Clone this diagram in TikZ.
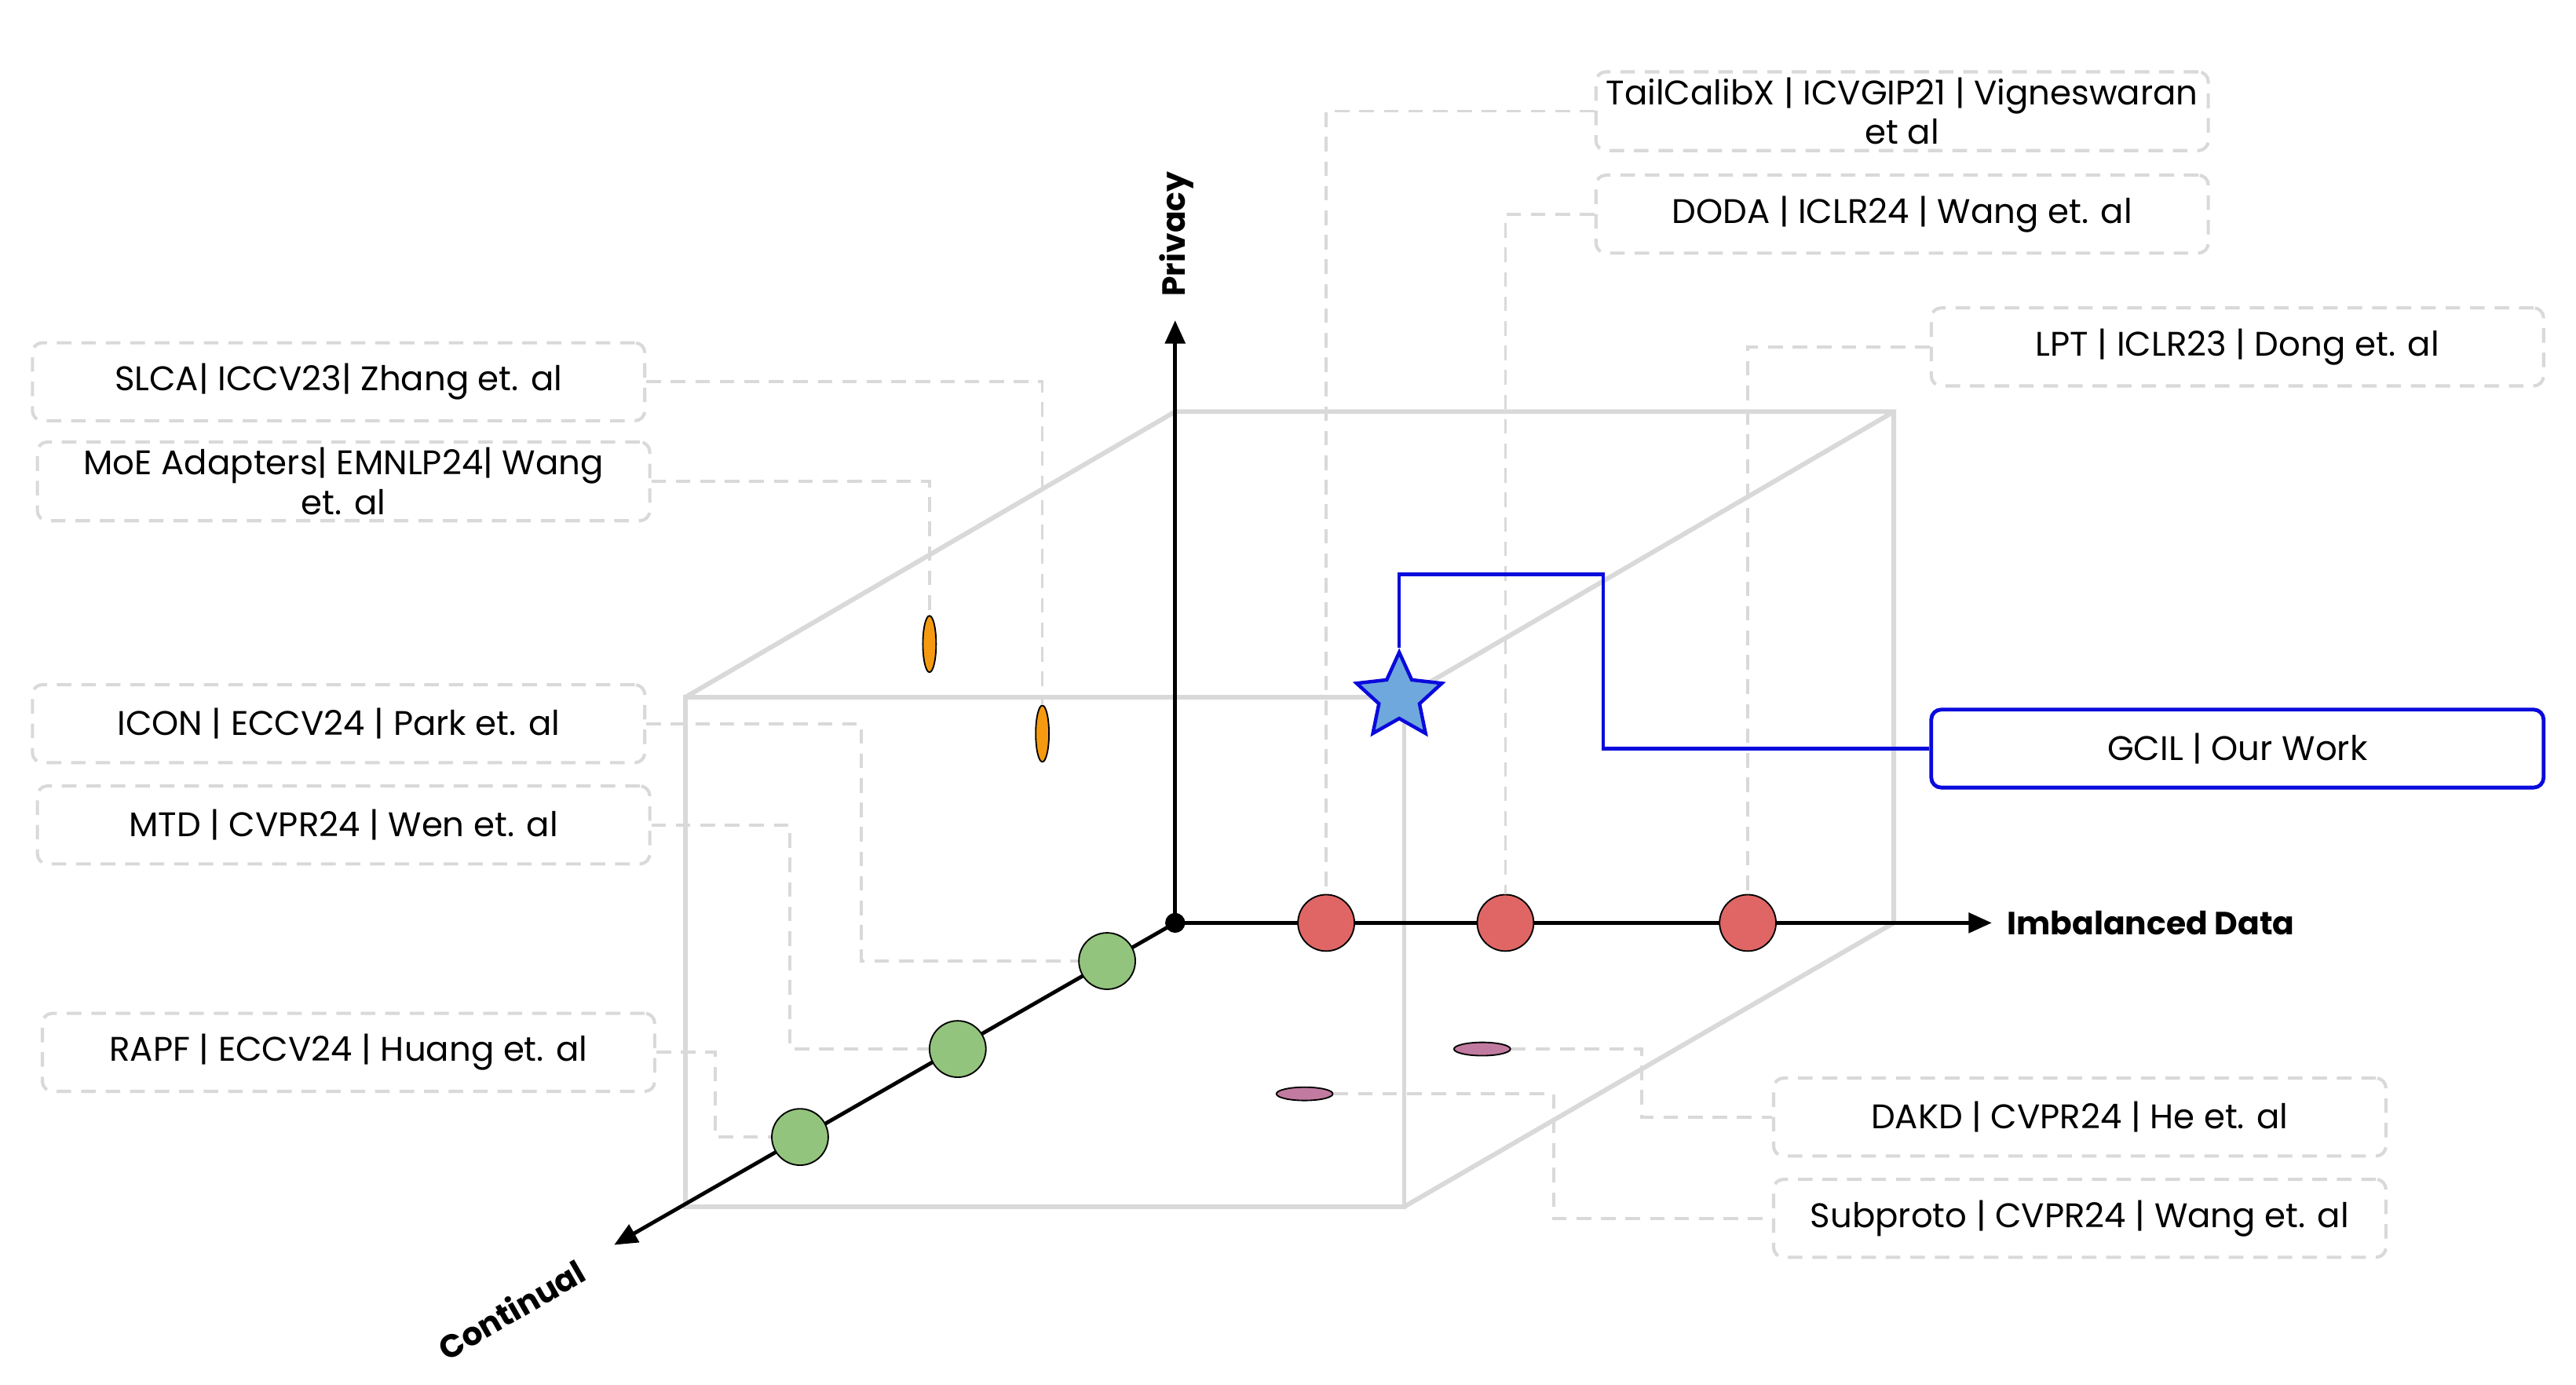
\documentclass[tikz,border=0pt]{standalone}
\usepackage{fontspec}
\setmainfont{Poppins}
\usetikzlibrary{arrows.meta,shapes.geometric}

\definecolor{cubegray}{HTML}{D9D9D9}
\definecolor{dotred}{HTML}{E06666}
\definecolor{dotgreen}{HTML}{93C47D}
\definecolor{dotorange}{HTML}{F59A10}
\definecolor{dotpink}{HTML}{C27BA0}
\definecolor{starblue}{HTML}{6FA8DC}
\definecolor{ourblue}{HTML}{0A0ADC}

\tikzset{
    paper/.style={draw=cubegray, line width=1.1pt, dash pattern=on 5pt off 3.4pt,
        rounded corners=0.12cm, minimum width=7.38cm, minimum height=0.94cm,
        align=center, inner sep=2pt, font=\fontsize{11.7}{13.6}\selectfont},
    ours/.style={paper, draw=ourblue, solid, line width=1.3pt},
    link/.style={draw=cubegray, line width=1pt, dash pattern=on 5pt off 3.4pt},
    axis/.style={line width=1.3pt, -{Triangle[length=0.28cm,width=0.24cm]}},
    axislabel/.style={font=\bfseries\fontsize{11}{13}\selectfont},
    dot/.style={draw=black, line width=0.5pt, inner sep=0pt},
}

\begin{document}
\begin{tikzpicture}[x=0.02cm, y=-0.02cm]
                \useasboundingbox (0,0) rectangle (1552,834);
                \def\front{(413,420) rectangle (846,727)}
                \def\cubeback{(413,420) -- (708,248) -- (1141,248) -- (1141,556) -- (846,727) (846,420) -- (1141,248)}

                % Cube
                \draw[cubegray, line width=1.6pt] \front;
                \draw[cubegray, line width=1.6pt] \cubeback;

                % Axes
                \coordinate (o) at (708,556);
                \draw[axis] (o) -- (708,193);
                \draw[axis] (o) -- (1200,556);
                \draw[axis] (o) -- (370,750);
                \node[axislabel, rotate=90] (privacy) at (709,141) {Privacy};
                \node[axislabel, anchor=west] (imbal) at (1203,556) {Imbalanced Data};
                \node[axislabel, rotate=30] (cont) at (308,789) {Continual};
                \fill (o) circle (6);

                % Imbalanced methods
                \node[dot, circle, fill=dotred, minimum size=0.68cm] (r1) at (799,556) {};
                \node[dot, circle, fill=dotred, minimum size=0.68cm] (r2) at (907,556) {};
                \node[dot, circle, fill=dotred, minimum size=0.68cm] (r3) at (1053,556) {};

                % Continual methods
                \node[dot, circle, fill=dotgreen, minimum size=0.68cm] (g1) at (667,579) {};
                \node[dot, circle, fill=dotgreen, minimum size=0.68cm] (g2) at (577,632) {};
                \node[dot, circle, fill=dotgreen, minimum size=0.68cm] (g3) at (482,685) {};

                % Privacy and continual
                \node[dot, ellipse, fill=dotorange, minimum width=0.16cm, minimum height=0.68cm] (o1) at (560,388) {};
                \node[dot, ellipse, fill=dotorange, minimum width=0.16cm, minimum height=0.68cm] (o2) at (628,442) {};

                % Imbalanced and continual
                \node[dot, ellipse, fill=dotpink, minimum width=0.68cm, minimum height=0.16cm] (p1) at (893,632) {};
                \node[dot, ellipse, fill=dotpink, minimum width=0.68cm, minimum height=0.16cm] (p2) at (786,659) {};

                % Our work
                \node[star, star points=5, star point ratio=2.1, minimum size=1.08cm, inner sep=0pt,
                    fill=starblue, draw=ourblue, line width=1.2pt] (star) at (843,420) {};

                % Papers
                \node[paper] (tail) at (1146,67) {TailCalibX | ICVGIP21 | Vigneswaran\\et al};
                \node[paper] (doda) at (1146,129) {DODA | ICLR24 | Wang et. al};
                \node[paper] (lpt) at (1348,209) {LPT | ICLR23 | Dong et. al};
                \node[paper] (slca) at (204,230) {SLCA| ICCV23| Zhang et. al};
                \node[paper] (moe) at (207,290) {MoE Adapters| EMNLP24| Wang\\et. al};
                \node[paper] (icon) at (204,436) {ICON | ECCV24 | Park et. al};
                \node[paper] (mtd) at (207,497) {MTD | CVPR24 | Wen et. al};
                \node[paper] (rapf) at (210,634) {RAPF | ECCV24 | Huang et. al};
                \node[paper] (dakd) at (1253,673) {DAKD | CVPR24 | He et. al};
                \node[paper] (subp) at (1253,734) {Subproto | CVPR24 | Wang et. al};
                \node[ours] (gcil) at (1348,451) {GCIL | Our Work};

                % Links
                \draw[link] (tail.west) -| (r1.north);
                \draw[link] (doda.west) -| (r2.north);
                \draw[link] (lpt.west) -| (r3.north);
                \draw[link] (slca.east) -| (o2.north);
                \draw[link] (moe.east) -| (o1.north);
                \draw[link] (icon.east) -- (519,436) |- (g1.west);
                \draw[link] (mtd.east) -- (476,497) |- (g2.west);
                \draw[link] (rapf.east) -- (431,634) |- (g3.west);
                \draw[link] (p1.east) -- (989,632) |- (dakd.west);
                \draw[link] (p2.east) -- (936,659) |- (subp.west);
                \draw[ourblue, line width=1.2pt] (star.north) |- (966,346) |- (gcil.west);
\end{tikzpicture}
\end{document}
